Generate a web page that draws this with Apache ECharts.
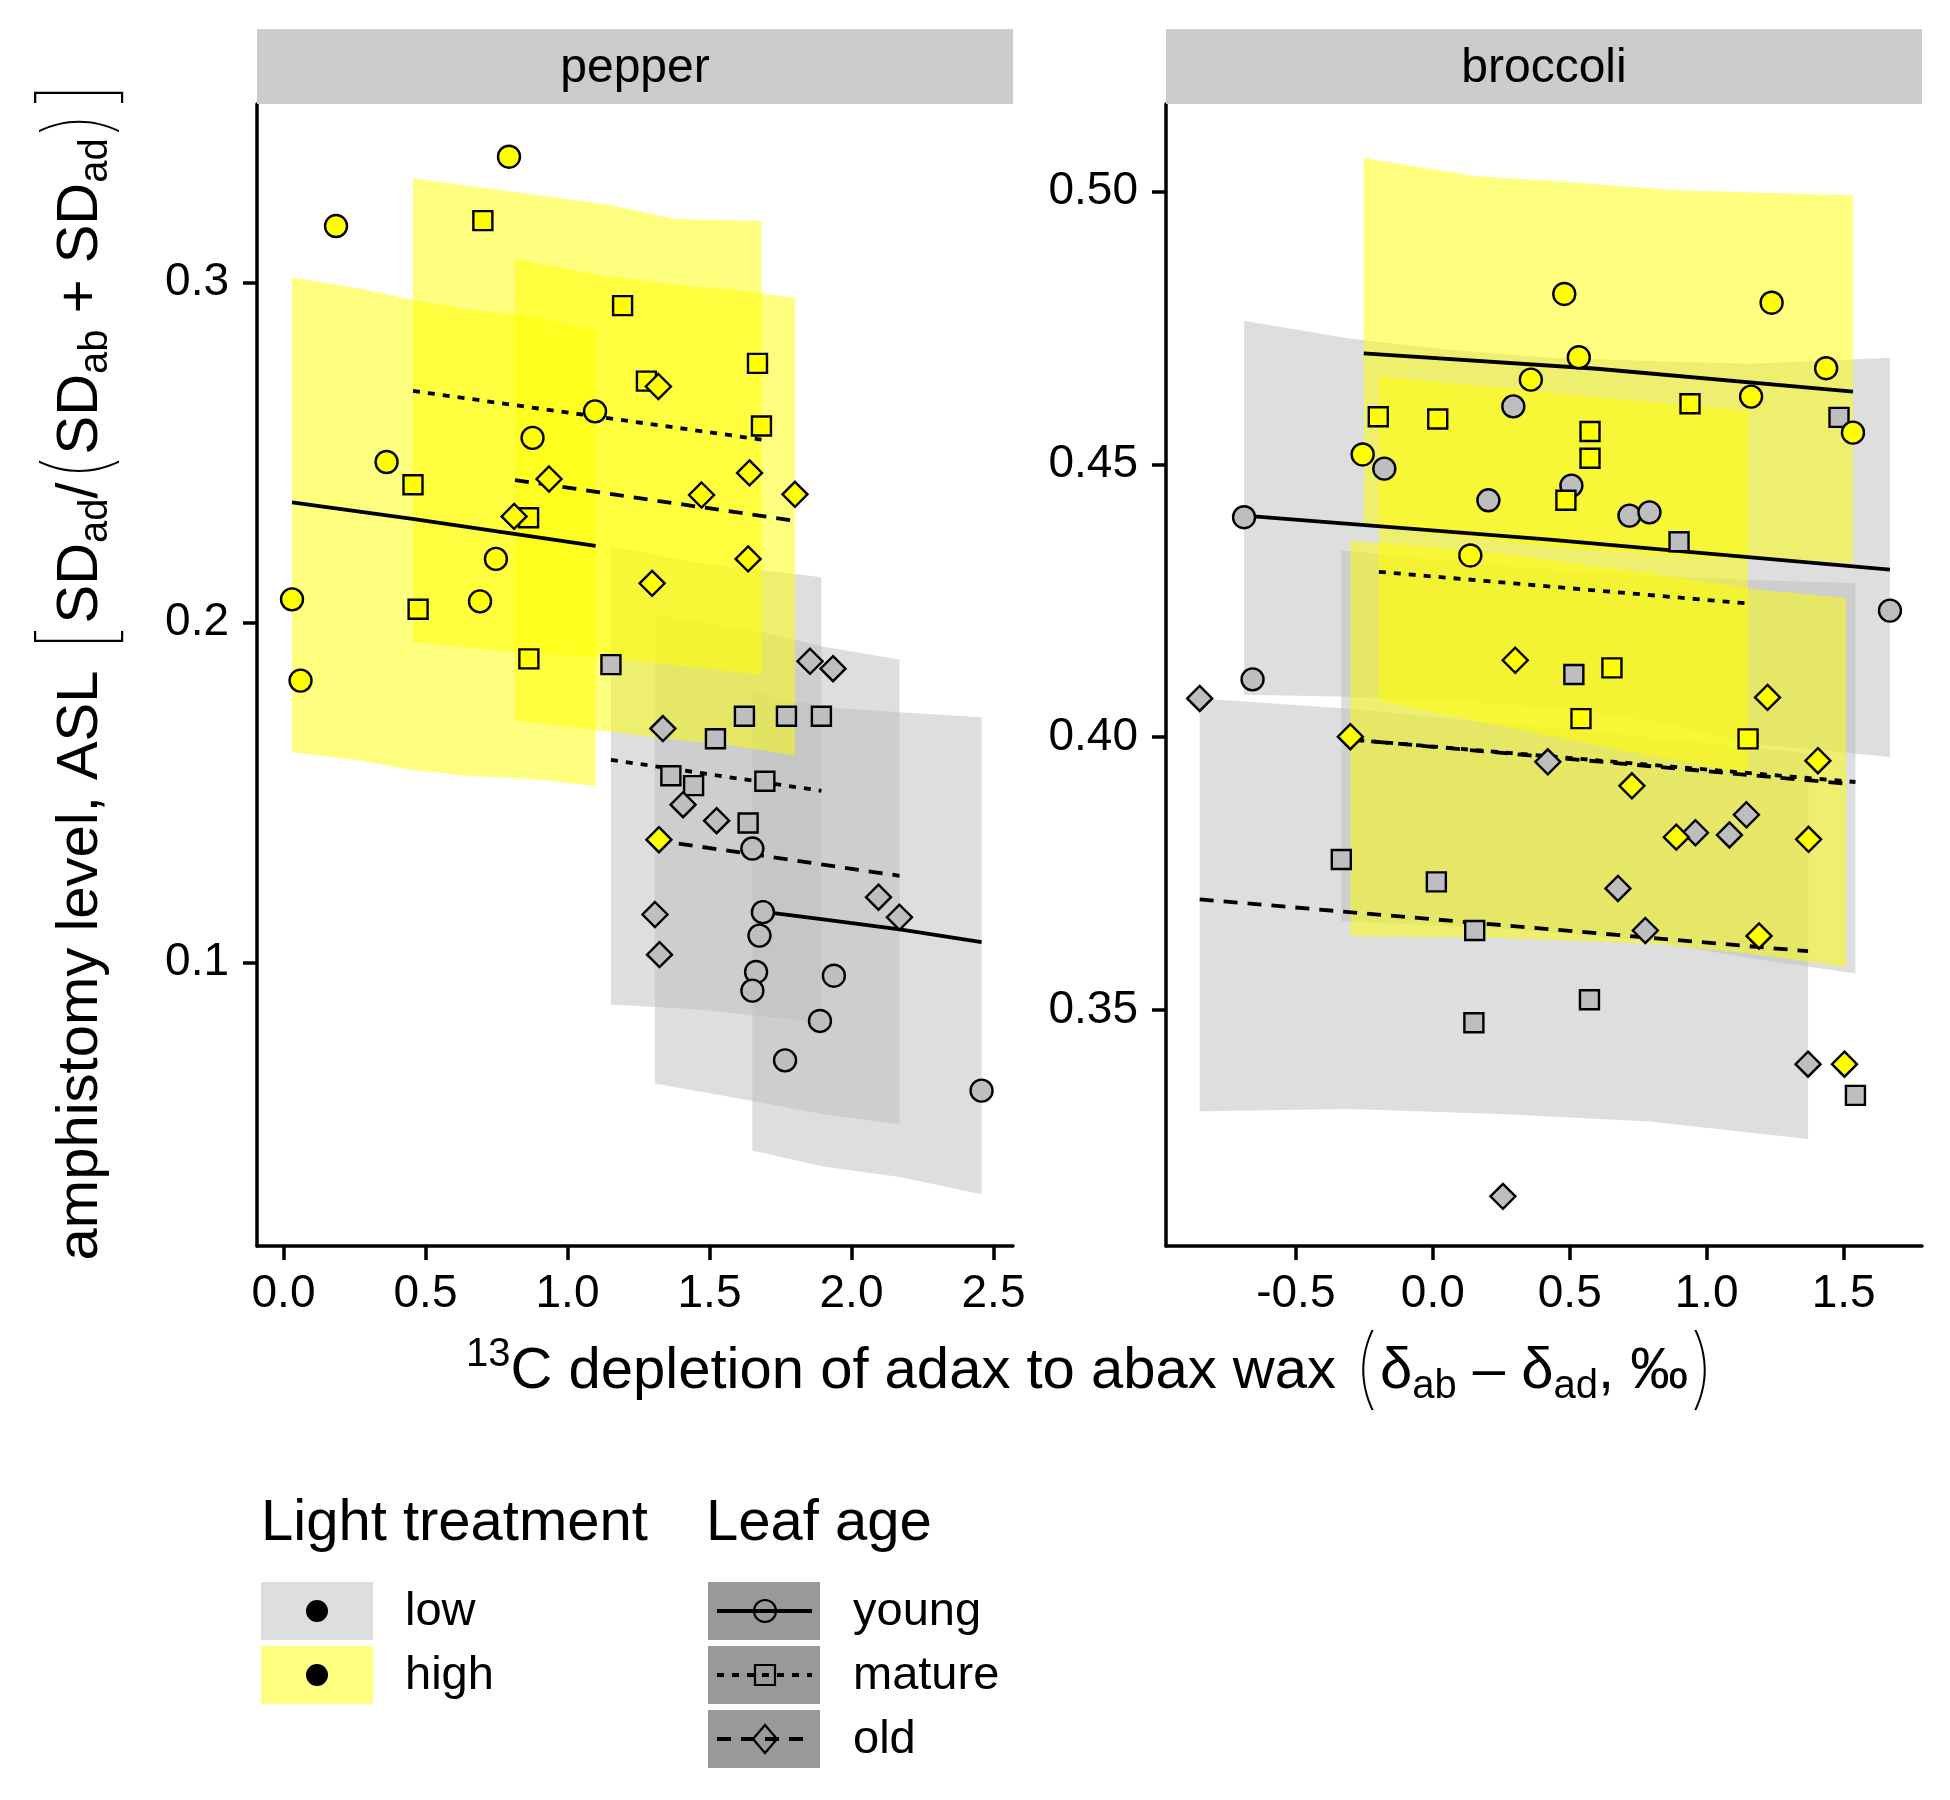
<!DOCTYPE html>
<html>
<head>
<meta charset="utf-8">
<script src="https://cdn.jsdelivr.net/npm/echarts@6/dist/echarts.min.js"></script>
<style>
html,body{margin:0;padding:0;background:#ffffff;}
#main{width:1950px;height:1800px;}
</style>
</head>
<body>
<div id="main"></div>
<script>
// ---------------- DATA ----------------
const panels = ['pepper', 'broccoli'];
const lightLevels = ['low', 'high'];
const leafAges = ['young', 'mature', 'old'];

const pepperXTicks = [0.0, 0.5, 1.0, 1.5, 2.0, 2.5];
const pepperYTicks = [0.1, 0.2, 0.3];
const broccoliXTicks = [-0.5, 0.0, 0.5, 1.0, 1.5];
const broccoliYTicks = [0.35, 0.40, 0.45, 0.50];

// points [x, ASL]
const pepperHighYoung = [[0.794,0.337],[0.185,0.3166],[1.097,0.2621],[0.877,0.2543],[0.363,0.2472],[0.748,0.2187],[0.030,0.2068],[0.692,0.2062],[0.060,0.1829]];
const pepperHighMature = [[0.702,0.3182],[1.194,0.2932],[1.669,0.2762],[1.278,0.2710],[1.683,0.2578],[0.456,0.2405],[0.863,0.2308],[0.474,0.2039],[0.864,0.1893]];
const pepperHighOld = [[1.320,0.2694],[0.935,0.2422],[1.641,0.2440],[1.472,0.2375],[1.801,0.2377],[0.812,0.2312],[1.636,0.2187],[1.298,0.2115],[1.322,0.1361]];
const pepperLowYoung = [[1.651,0.1335],[1.688,0.1148],[1.676,0.1079],[1.664,0.0972],[1.651,0.0917],[1.938,0.0961],[1.889,0.0828],[1.766,0.0712],[2.458,0.0623]];
const pepperLowMature = [[1.153,0.1876],[1.623,0.1724],[1.771,0.1724],[1.894,0.1724],[1.521,0.1658],[1.364,0.1549],[1.444,0.1520],[1.695,0.1533],[1.636,0.1410]];
const pepperLowOld = [[1.854,0.1886],[1.935,0.1864],[1.336,0.1688],[1.407,0.1464],[1.525,0.1417],[2.095,0.1192],[2.169,0.1133],[1.308,0.1141],[1.324,0.1023]];

const broccoliHighYoung = [[0.480,0.4812],[1.237,0.4796],[0.533,0.4696],[1.436,0.4676],[0.358,0.4655],[1.162,0.4624],[1.534,0.4558],[-0.256,0.4518],[0.137,0.4333]];
const broccoliHighMature = [[0.939,0.4611],[-0.199,0.4587],[0.018,0.4583],[0.574,0.4560],[0.574,0.4511],[0.486,0.4434],[0.654,0.4127],[0.541,0.4034],[1.151,0.3997]];
const broccoliHighOld = [[0.301,0.4141],[1.222,0.4073],[-0.301,0.4001],[1.406,0.3957],[0.727,0.3911],[0.889,0.3817],[1.372,0.3813],[1.191,0.3636],[1.503,0.3401]];
const broccoliLowYoung = [[0.294,0.4606],[-0.177,0.4492],[0.506,0.4461],[0.203,0.4434],[-0.689,0.4403],[0.718,0.4406],[0.791,0.4412],[1.669,0.4232],[-0.658,0.4106]];
const broccoliLowMature = [[1.483,0.4586],[0.899,0.4358],[0.515,0.4115],[-0.334,0.3776],[0.013,0.3735],[0.153,0.3646],[0.572,0.3519],[0.150,0.3477],[1.543,0.3344]];
const broccoliLowOld = [[-0.851,0.4071],[0.420,0.3955],[1.145,0.3858],[0.959,0.3825],[1.083,0.3821],[0.676,0.3723],[0.776,0.3646],[1.370,0.3401],[0.256,0.3159]];

// credible bands [x, lower, upper]
const pepperHighYoungBand = [[0.03,0.1618,0.3015],[0.25,0.1597,0.2985],[0.45,0.1567,0.2949],[0.65,0.1549,0.2922],[0.87,0.1540,0.2901],[1.099,0.1519,0.2860]];
const pepperHighMatureBand = [[0.456,0.1942,0.3306],[0.762,0.1915,0.3272],[1.150,0.1895,0.3228],[1.379,0.1875,0.3187],[1.683,0.1846,0.3181]];
const pepperHighOldBand = [[0.815,0.1712,0.3069],[1.114,0.1682,0.3022],[1.379,0.1655,0.2993],[1.554,0.1641,0.2981],[1.801,0.1609,0.2956]];
const pepperLowYoungBand = [[1.651,0.0447,0.1795],[1.907,0.0399,0.1751],[2.170,0.0369,0.1736],[2.458,0.0318,0.1721]];
const pepperLowMatureBand = [[1.153,0.0876,0.2224],[1.450,0.0862,0.2177],[1.894,0.0825,0.2133]];
const pepperLowOldBand = [[1.308,0.0644,0.2023],[1.643,0.0594,0.1979],[1.907,0.0553,0.1928],[2.169,0.0524,0.1891]];

const broccoliHighYoungBand = [[-0.252,0.4387,0.5061],[0.153,0.4365,0.5028],[0.518,0.4345,0.5016],[0.884,0.4332,0.5002],[1.534,0.4319,0.4993]];
const broccoliHighMatureBand = [[-0.197,0.4067,0.4661],[0.245,0.4021,0.4640],[0.701,0.3975,0.4618],[1.151,0.3934,0.4598]];
const broccoliHighOldBand = [[-0.301,0.3636,0.4360],[0.245,0.3632,0.4337],[0.793,0.3622,0.4300],[1.158,0.3604,0.4272],[1.509,0.3579,0.4255]];
const broccoliLowYoungBand = [[-0.689,0.4078,0.4763],[-0.300,0.4074,0.4730],[0.062,0.4067,0.4710],[0.427,0.4055,0.4695],[0.800,0.4030,0.4689],[1.158,0.3989,0.4684],[1.669,0.3964,0.4695]];
const broccoliLowMatureBand = [[-0.334,0.3663,0.4342],[0.245,0.3650,0.4314],[0.793,0.3627,0.4296],[1.158,0.3595,0.4288],[1.543,0.3567,0.4282]];
const broccoliLowOldBand = [[-0.851,0.3315,0.4071],[-0.303,0.3319,0.4052],[0.245,0.3310,0.4025],[0.793,0.3296,0.4000],[1.370,0.3264,0.3970]];

// fitted lines [x, ASL]
const pepperHighYoungFit = [[0.030,0.2353],[0.454,0.2305],[1.099,0.2225]];
const pepperHighMatureFit = [[0.456,0.2681],[1.683,0.2538]];
const pepperHighOldFit = [[0.815,0.2419],[1.801,0.2299]];
const pepperLowYoungFit = [[1.651,0.1153],[1.907,0.1126],[2.170,0.1097],[2.458,0.1060]];
const pepperLowMatureFit = [[1.153,0.1596],[1.894,0.1505]];
const pepperLowOldFit = [[1.308,0.1360],[2.169,0.1255]];

const broccoliHighYoungFit = [[-0.252,0.4703],[0.600,0.4675],[1.534,0.4633]];
const broccoliHighMatureFit = [[-0.197,0.4303],[1.151,0.4245]];
const broccoliHighOldFit = [[-0.301,0.3996],[1.509,0.3915]];
const broccoliLowYoungFit = [[-0.689,0.4406],[0.427,0.4362],[1.669,0.4307]];
const broccoliLowMatureFit = [[-0.334,0.3997],[1.543,0.3918]];
const broccoliLowOldFit = [[-0.851,0.3703],[1.370,0.3608]];

// ---------------- STYLE / LAYOUT ----------------
const FONT = '"Liberation Sans", Arial, Helvetica, sans-serif';
const THIN = '"Inter", "DejaVu Sans", "Liberation Sans", sans-serif';
const grids = [
  {left: 257, top: 104, width: 756, height: 1142},
  {left: 1166, top: 104, width: 756, height: 1142}
];
const axisRanges = [
  {xmin: -0.0933, xmax: 2.5687, ymin: 0.0166, ymax: 0.3525},
  {xmin: -0.974, xmax: 1.786, ymin: 0.3068, ymax: 0.516}
];
const fillColor = {low: '#bebebe', high: '#ffff00'};
const bandColor = {low: 'rgba(190,190,190,0.5)', high: 'rgba(255,255,0,0.5)'};
const symbolOf = {young: 'circle', mature: 'rect', old: 'diamond'};
const symbolSizeOf = {young: 22, mature: 19, old: 25};
const dashOf = {young: 'solid', mature: [7, 8], old: [14, 10]};

const groups = [
  {p:0, light:'low',  age:'young',  pts:pepperLowYoung,  band:pepperLowYoungBand,  fit:pepperLowYoungFit},
  {p:0, light:'low',  age:'mature', pts:pepperLowMature, band:pepperLowMatureBand, fit:pepperLowMatureFit},
  {p:0, light:'low',  age:'old',    pts:pepperLowOld,    band:pepperLowOldBand,    fit:pepperLowOldFit},
  {p:0, light:'high', age:'young',  pts:pepperHighYoung, band:pepperHighYoungBand, fit:pepperHighYoungFit},
  {p:0, light:'high', age:'mature', pts:pepperHighMature,band:pepperHighMatureBand,fit:pepperHighMatureFit},
  {p:0, light:'high', age:'old',    pts:pepperHighOld,   band:pepperHighOldBand,   fit:pepperHighOldFit},
  {p:1, light:'low',  age:'young',  pts:broccoliLowYoung,  band:broccoliLowYoungBand,  fit:broccoliLowYoungFit},
  {p:1, light:'low',  age:'mature', pts:broccoliLowMature, band:broccoliLowMatureBand, fit:broccoliLowMatureFit},
  {p:1, light:'low',  age:'old',    pts:broccoliLowOld,    band:broccoliLowOldBand,    fit:broccoliLowOldFit},
  {p:1, light:'high', age:'young',  pts:broccoliHighYoung, band:broccoliHighYoungBand, fit:broccoliHighYoungFit},
  {p:1, light:'high', age:'mature', pts:broccoliHighMature,band:broccoliHighMatureBand,fit:broccoliHighMatureFit},
  {p:1, light:'high', age:'old',    pts:broccoliHighOld,   band:broccoliHighOldBand,   fit:broccoliHighOldFit}
];

function bandSeries(g) {
  const band = g.band;
  return {
    type: 'custom', coordinateSystem: 'cartesian2d',
    xAxisIndex: g.p, yAxisIndex: g.p, z: 1, silent: true,
    data: band,
    encode: {x: 0, y: [1, 2]},
    renderItem: function (params, api) {
      if (params.dataIndex !== 0) return null;
      const upper = band.map(r => api.coord([r[0], r[2]]));
      const lower = band.slice().reverse().map(r => api.coord([r[0], r[1]]));
      return {type: 'polygon', shape: {points: upper.concat(lower)},
              style: {fill: bandColor[g.light], stroke: null}};
    }
  };
}
function fitSeries(g) {
  return {
    type: 'line', xAxisIndex: g.p, yAxisIndex: g.p, z: 2, silent: true,
    data: g.fit, showSymbol: false, symbol: 'none',
    lineStyle: {color: '#000', width: 3.8, type: dashOf[g.age], cap: 'butt'}
  };
}
function pointSeries(g) {
  return {
    type: 'scatter', xAxisIndex: g.p, yAxisIndex: g.p, z: 3, silent: true,
    data: g.pts, symbol: symbolOf[g.age], symbolSize: symbolSizeOf[g.age],
    itemStyle: {color: fillColor[g.light], borderColor: '#000', borderWidth: 2.4, opacity: 1}
  };
}

const series = [].concat(groups.map(bandSeries), groups.map(fitSeries), groups.map(pointSeries));

function xAxisCfg(i, ticks) {
  return {
    type: 'value', gridIndex: i, min: axisRanges[i].xmin, max: axisRanges[i].xmax,
    axisLine: {show: true, onZero: false, lineStyle: {color: '#000', width: 3.5}},
    axisTick: {show: true, inside: false, length: 14, lineStyle: {color: '#000', width: 3.5}, customValues: ticks},
    axisLabel: {show: true, customValues: ticks, formatter: v => (+v).toFixed(1), color: '#000',
                fontSize: 46, fontFamily: FONT, margin: 25},
    splitLine: {show: false}
  };
}
function yAxisCfg(i, ticks, dec) {
  return {
    type: 'value', gridIndex: i, min: axisRanges[i].ymin, max: axisRanges[i].ymax,
    axisLine: {show: true, onZero: false, lineStyle: {color: '#000', width: 3.5}},
    axisTick: {show: true, inside: false, length: 14, lineStyle: {color: '#000', width: 3.5}, customValues: ticks},
    axisLabel: {show: true, customValues: ticks, formatter: v => (+v).toFixed(dec), color: '#000',
                fontSize: 46, fontFamily: FONT, margin: 28},
    splitLine: {show: false}
  };
}

// ---------------- GRAPHICS (strips, titles, legend) ----------------
const graphics = [];
panels.forEach((name, i) => {
  const gr = grids[i];
  graphics.push({type: 'rect', z: 10, shape: {x: gr.left, y: 29, width: gr.width, height: 75}, style: {fill: '#cccccc'}});
  graphics.push({type: 'text', z: 11, x: gr.left + gr.width / 2, y: 69,
    style: {text: name, font: '48px ' + FONT, fill: '#000', textAlign: 'center', textVerticalAlign: 'middle'}});
});

const LH = 130;
const richBase = {
  n:  {fontSize: 58, fontFamily: FONT, lineHeight: LH, fill: '#000', color: '#000'},
  sub:{fontSize: 40, fontFamily: FONT, lineHeight: LH, fill: '#000', color: '#000', padding: [30, 0, 0, 0]},
  sup:{fontSize: 40, fontFamily: FONT, lineHeight: LH, fill: '#000', color: '#000', padding: [0, 0, 34, 0]},
  bb: {fontSize: 98, fontFamily: THIN, fontWeight: 100, lineHeight: LH, fill: '#000', color: '#000'},
  bp: {fontSize: 88, fontFamily: THIN, fontWeight: 100, lineHeight: LH, fill: '#000', color: '#000'}
};
// y title
graphics.push({type: 'text', z: 11, x: 81, y: 670, rotation: Math.PI / 2,
  style: {
    text: '{n|amphistomy level, ASL }{bb|[}{n|SD}{sub|ad}{n|/}{bp|(}{n|SD}{sub|ab}{n| + SD}{sub|ad}{bp|)}{bb|]}',
    rich: richBase, textAlign: 'center', textVerticalAlign: 'middle', fill: '#000', font: '58px ' + FONT
  }});
// x title
graphics.push({type: 'text', z: 11, x: 1091, y: 1372,
  style: {
    text: '{sup|13}{n|C depletion of adax to abax wax }{bp|(}{n|δ}{sub|ab}{n| – δ}{sub|ad}{n|, ‰}{bp|)}',
    rich: richBase, textAlign: 'center', textVerticalAlign: 'middle', fill: '#000', font: '58px ' + FONT
  }});

// legend: Light treatment
graphics.push({type: 'text', z: 11, x: 261, y: 1524,
  style: {text: 'Light treatment', font: '58px ' + FONT, fill: '#000', textAlign: 'left', textVerticalAlign: 'middle'}});
const lightKeyFill = {low: '#dedede', high: '#ffff80'};
lightLevels.forEach((lv, k) => {
  const cy = 1611 + k * 64;
  graphics.push({type: 'rect', z: 11, shape: {x: 261, y: cy - 29, width: 112, height: 58}, style: {fill: lightKeyFill[lv]}});
  graphics.push({type: 'circle', z: 12, shape: {cx: 317, cy: cy, r: 11}, style: {fill: '#000'}});
  graphics.push({type: 'text', z: 11, x: 405, y: cy + 1,
    style: {text: lv, font: '47px ' + FONT, fill: '#000', textAlign: 'left', textVerticalAlign: 'middle'}});
});
// legend: Leaf age
graphics.push({type: 'text', z: 11, x: 706, y: 1524,
  style: {text: 'Leaf age', font: '58px ' + FONT, fill: '#000', textAlign: 'left', textVerticalAlign: 'middle'}});
leafAges.forEach((ag, k) => {
  const cy = 1611 + k * 64;
  graphics.push({type: 'rect', z: 11, shape: {x: 708, y: cy - 29, width: 112, height: 58}, style: {fill: '#999999'}});
  graphics.push({type: 'line', z: 12, shape: {x1: 717, y1: cy, x2: 812, y2: cy},
    style: {stroke: '#000', lineWidth: 4, lineDash: ag === 'young' ? null : dashOf[ag]}});
  if (ag === 'young') {
    graphics.push({type: 'circle', z: 13, shape: {cx: 765, cy: cy, r: 11}, style: {fill: null, stroke: '#000', lineWidth: 2.2}});
  } else if (ag === 'mature') {
    graphics.push({type: 'rect', z: 13, shape: {x: 755, y: cy - 10, width: 20, height: 20}, style: {fill: null, stroke: '#000', lineWidth: 2.2}});
  } else {
    graphics.push({type: 'polygon', z: 13, shape: {points: [[765, cy - 14], [777, cy], [765, cy + 14], [753, cy]]},
      style: {fill: null, stroke: '#000', lineWidth: 2.2}});
  }
  graphics.push({type: 'text', z: 11, x: 853, y: cy + 1,
    style: {text: ag, font: '47px ' + FONT, fill: '#000', textAlign: 'left', textVerticalAlign: 'middle'}});
});

const option = {
  animation: false,
  backgroundColor: '#ffffff',
  textStyle: {fontFamily: FONT},
  grid: grids.map(g => Object.assign({containLabel: false}, g)),
  xAxis: [xAxisCfg(0, pepperXTicks), xAxisCfg(1, broccoliXTicks)],
  yAxis: [yAxisCfg(0, pepperYTicks, 1), yAxisCfg(1, broccoliYTicks, 2)],
  series: series,
  graphic: graphics
};

const chart = echarts.init(document.getElementById('main'), null, {renderer: 'canvas', width: 1950, height: 1800});
chart.setOption(option);
</script>
</body>
</html>
